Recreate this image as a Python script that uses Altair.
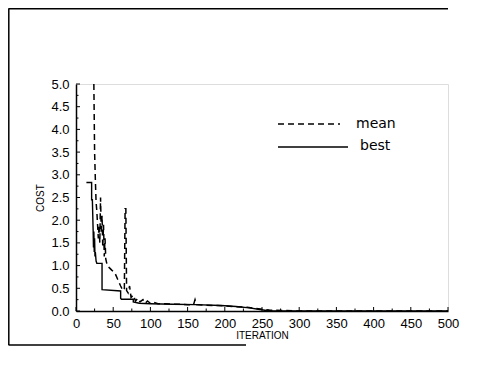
import altair as alt
import pandas as pd

# ---- data ----
best_iter = [14, 21, 21, 22, 23, 23.5, 24, 24.5, 25, 25.5, 26, 27, 28, 35, 35, 60, 60, 61, 77, 77,
             85, 100, 130, 160, 195, 215, 233, 245, 256, 265, 500]
best_cost = [2.83, 2.83, 2.45, 2.45, 1.8, 1.4, 1.75, 1.3, 1.6, 1.2, 1.3, 1.1, 1.05, 1.05, 0.47, 0.44,
             0.28, 0.26, 0.26, 0.2, 0.17, 0.16, 0.15, 0.14, 0.12, 0.1, 0.07, 0.04, 0.01, 0.0, 0.0]

mean_iter = [24, 25, 26, 27, 28, 29, 30, 31, 32, 33, 34, 35, 36, 37, 38, 39, 40, 42, 45, 48, 52, 56,
             60, 63, 65, 66, 67, 68, 70, 72, 74, 77, 80, 83, 86, 90, 93, 96, 100, 105, 110, 120, 130,
             140, 150, 158, 160, 162, 170, 190, 210, 230, 245, 260, 280, 300, 500]
mean_cost = [5.0, 3.5, 2.9, 2.4, 2.2, 1.9, 1.6, 1.9, 1.5, 2.5, 1.7, 2.1, 1.4, 1.9, 1.2, 1.6, 1.15,
             1.0, 0.95, 0.9, 0.85, 0.7, 0.55, 0.45, 0.5, 2.25, 2.25, 0.45, 0.4, 0.55, 0.3, 0.35, 0.22,
             0.28, 0.2, 0.25, 0.17, 0.22, 0.17, 0.19, 0.16, 0.16, 0.15, 0.15, 0.14, 0.14, 0.25, 0.14,
             0.13, 0.12, 0.1, 0.08, 0.05, 0.02, 0.01, 0.0, 0.0]

x_major = [0, 50, 100, 150, 200, 250, 300, 350, 400, 450, 500]
x_minor = [25, 75, 125, 175, 225, 275, 325, 375, 425, 475]
y_major = [0.0, 0.5, 1.0, 1.5, 2.0, 2.5, 3.0, 3.5, 4.0, 4.5, 5.0]
y_minor = [0.25, 0.75, 1.25, 1.75, 2.25, 2.75, 3.25, 3.75, 4.25, 4.75]

legend_labels = ["mean", "best"]

W, H = 372, 227
PL, PT, PR, PB = 68, 76, 12, 38

best_df = pd.DataFrame({"iter": best_iter, "cost": best_cost})
mean_df = pd.DataFrame({"iter": mean_iter, "cost": mean_cost})

xs = alt.Scale(domain=[0, 500], nice=False)
ys = alt.Scale(domain=[0, 5], nice=False)

xaxis = alt.Axis(values=x_major, format="d", tickSize=0, labelPadding=6, labelFontSize=13,
                 labelFont="Liberation Sans", labelColor="black", domainColor="black",
                 domainWidth=1.5, grid=False, title="ITERATION", titleFont="Liberation Sans",
                 titleFontSize=10, titleFontWeight="normal", titleColor="black", titlePadding=0,
                 labelFlush=False, labelOverlap=False)
yaxis = alt.Axis(values=y_major, format=".1f", tickSize=0, labelPadding=7, labelFontSize=13,
                 labelFont="Liberation Sans", labelColor="black", domainColor="black",
                 domainWidth=1.5, grid=False, title="COST", titleFont="Liberation Sans",
                 titleFontSize=10, titleFontWeight="normal", titleColor="black", titlePadding=5,
                 labelOverlap=False)


def X(field):
    return alt.X(field, scale=xs, axis=xaxis)


def Y(field):
    return alt.Y(field, scale=ys, axis=yaxis)


best_line = alt.Chart(best_df).transform_window(index="row_number()").mark_line(
    color="black", strokeWidth=1.4).encode(x=X("iter:Q"), y=Y("cost:Q"), order="index:Q")

mean_line = alt.Chart(mean_df).transform_window(index="row_number()").mark_line(
    color="black", strokeWidth=1.5, strokeDash=[6, 4]).encode(
    x=X("iter:Q"), y=Y("cost:Q"), order="index:Q")

xt_major = alt.Chart(pd.DataFrame({"v": x_major})).mark_rule(color="black", strokeWidth=1).encode(
    x=X("v:Q"), y=alt.value(H), y2=alt.value(H - 4))
xt_minor = alt.Chart(pd.DataFrame({"v": x_minor})).mark_rule(color="black", strokeWidth=1).encode(
    x=X("v:Q"), y=alt.value(H), y2=alt.value(H - 2.5))
yt_major = alt.Chart(pd.DataFrame({"v": y_major})).mark_rule(color="black", strokeWidth=1).encode(
    y=Y("v:Q"), x=alt.value(0), x2=alt.value(4))
yt_minor = alt.Chart(pd.DataFrame({"v": y_minor})).mark_rule(color="black", strokeWidth=1).encode(
    y=Y("v:Q"), x=alt.value(0), x2=alt.value(2.5))

leg_mean = alt.Chart(pd.DataFrame({"a": [1]})).mark_rule(color="black", strokeWidth=1.4,
                                                           strokeDash=[6, 4]).encode(
    x=alt.value(202), x2=alt.value(264), y=alt.value(40))
leg_best = alt.Chart(pd.DataFrame({"a": [2]})).mark_rule(color="black", strokeWidth=1.4).encode(
    x=alt.value(202), x2=alt.value(272), y=alt.value(63))
leg_mean_t = alt.Chart(pd.DataFrame({"t": [legend_labels[0]]})).mark_text(
    align="left", baseline="middle", fontSize=14, font="DejaVu Sans", color="black").encode(
    x=alt.value(280), y=alt.value(40), text="t:N")
leg_best_t = alt.Chart(pd.DataFrame({"t": [legend_labels[1]]})).mark_text(
    align="left", baseline="middle", fontSize=14, font="DejaVu Sans", color="black").encode(
    x=alt.value(284), y=alt.value(62), text="t:N")

# page frame (scan border)
frame_top = alt.Chart(pd.DataFrame({"a": [3]})).mark_rule(color="black", strokeWidth=1.5).encode(
    x=alt.value(-PL + 0.5), x2=alt.value(W), y=alt.value(-PT + 0.8))
frame_left = alt.Chart(pd.DataFrame({"a": [4]})).mark_rule(color="black", strokeWidth=1.5).encode(
    x=alt.value(-PL + 0.8), y=alt.value(-PT + 0.5), y2=alt.value(H + PB - 4))
frame_bottom = alt.Chart(pd.DataFrame({"a": [5]})).mark_rule(color="black", strokeWidth=1.5).encode(
    x=alt.value(-PL + 0.5), x2=alt.value(170), y=alt.value(H + PB - 4))

chart = alt.layer(
    best_line, mean_line, xt_major, xt_minor, yt_major, yt_minor,
    leg_mean, leg_best, leg_mean_t, leg_best_t, frame_top, frame_left, frame_bottom,
).properties(
    width=W, height=H,
    autosize=alt.AutoSizeParams(type="none"),
    padding={"left": PL, "top": PT, "right": PR, "bottom": PB},
).configure_view(stroke=None).configure(background="white")

chart.save("out.html", embed_options={"renderer": "svg", "actions": False})
